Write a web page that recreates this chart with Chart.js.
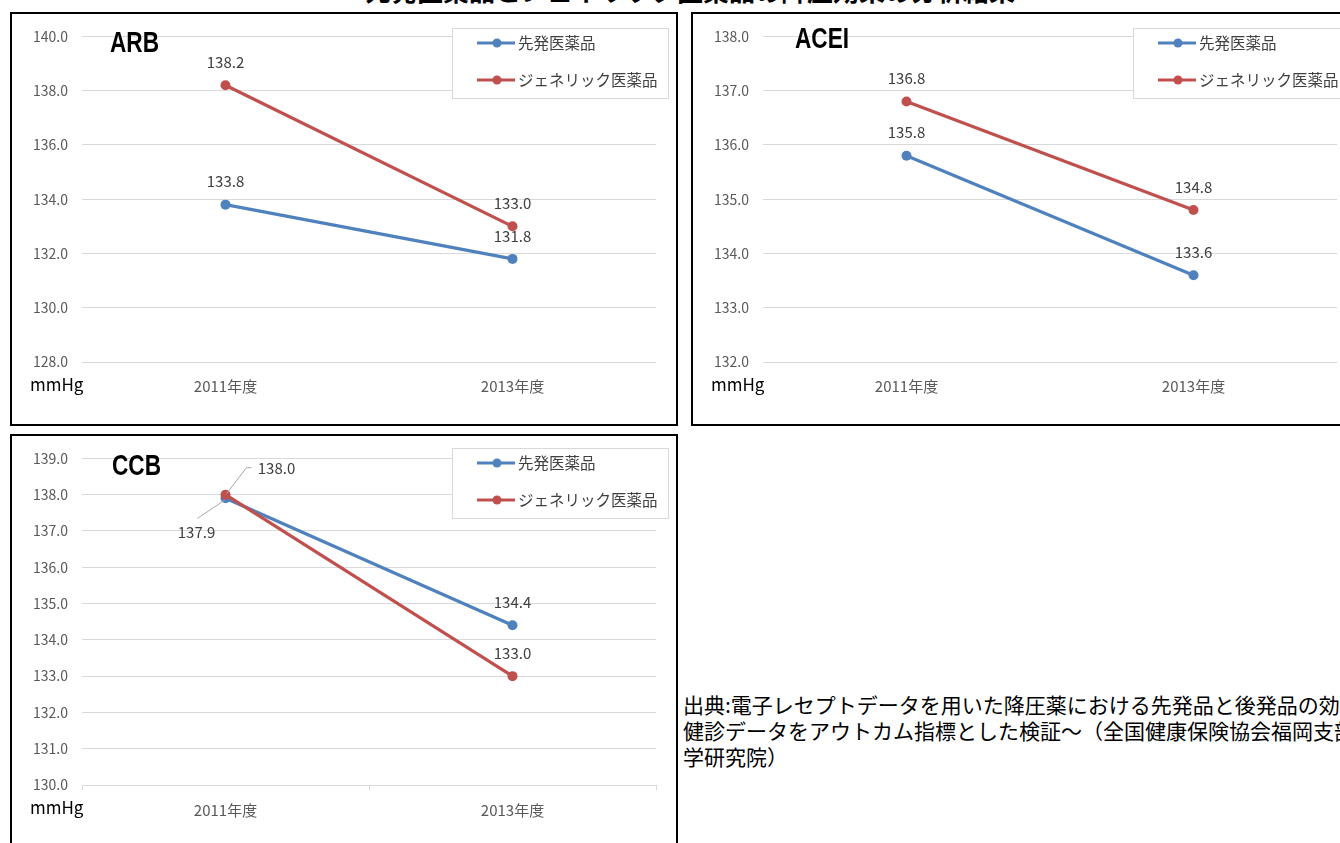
<!DOCTYPE html>
<html lang="ja">
<head>
<meta charset="utf-8">
<script src="https://cdn.jsdelivr.net/npm/chart.js@4.4.1/dist/chart.umd.min.js"></script>
<style>
  html, body { margin: 0; padding: 0; background: #fff; }
  body { width: 1340px; height: 843px; overflow: hidden; position: relative;
         font-family: "Noto Sans CJK JP", "Noto Sans", sans-serif; }
  .title { position: absolute; left: 0; width: 1380px; top: -29px; text-align: center;
           font-size: 26px; font-weight: bold; color: #000; white-space: nowrap; }
  .panel { position: absolute; border: 2px solid #000; background: #fff; overflow: hidden; }
  .panel canvas { position: absolute; left: 0; top: 0; }
  .source { position: absolute; left: 683px; top: 691px; font-size: 21px; line-height: 26px;
            color: #000; white-space: nowrap; }
</style>
</head>
<body>
<div class="title">先発医薬品とジェネリック医薬品の降圧効果の分析結果</div>

<div class="panel" style="left:10px; top:12px; width:664px; height:410px;">
  <canvas id="arb" width="664" height="410"></canvas>
</div>
<div class="panel" style="left:691px; top:12px; width:664px; height:410px;">
  <canvas id="acei" width="664" height="410"></canvas>
</div>
<div class="panel" style="left:10px; top:434px; width:664px; height:420px;">
  <canvas id="ccb" width="664" height="420"></canvas>
</div>

<div class="source">出典:電子レセプトデータを用いた降圧薬における先発品と後発品の効果比較～特定<br>健診データをアウトカム指標とした検証～（全国健康保険協会福岡支部・九州大学大学院医<br>学研究院）</div>

<script>
// ---- data ----
const years = ['2011年度', '2013年度'];
const seriesNames = ['先発医薬品', 'ジェネリック医薬品'];

const arbBrand   = [133.8, 131.8];
const arbGeneric = [138.2, 133.0];
const arbAxis    = [128, 140, 2];   // min, max, step

const aceiBrand   = [135.8, 133.6];
const aceiGeneric = [136.8, 134.8];
const aceiAxis    = [132, 138, 1];

const ccbBrand   = [137.9, 134.4];
const ccbGeneric = [138.0, 133.0];
const ccbAxis    = [130, 139, 1];

const unitLabel = 'mmHg';

// ---- styling ----
const BLUE = '#4F81BD';
const RED  = '#C0504D';
const GRID = '#d9d9d9';
const FONT = '"Noto Sans CJK JP", "Noto Sans", sans-serif';

// panel title, unit label, legend and value labels
const panelDecor = {
  id: 'panelDecor',
  afterDatasetsDraw(chart, args, opts) {
    const ctx = chart.ctx;
    ctx.save();

    // value labels (with optional leader lines)
    chart.data.datasets.forEach((ds, di) => {
      const meta = chart.getDatasetMeta(di);
      meta.data.forEach((pt, i) => {
        const key = di + ':' + i;
        const custom = (opts.labelPos || {})[key];
        const dx = custom ? custom.dx : 0;
        const dy = custom ? custom.dy : -23;
        if (custom && custom.leader) {
          ctx.strokeStyle = '#a6a6a6';
          ctx.lineWidth = 1;
          ctx.beginPath();
          custom.leader.forEach((p, k) => {
            const x = pt.x + p[0], y = pt.y + p[1];
            if (k === 0) ctx.moveTo(x, y); else ctx.lineTo(x, y);
          });
          ctx.stroke();
        }
        ctx.fillStyle = '#404040';
        ctx.font = '15px ' + FONT;
        ctx.textAlign = 'center';
        ctx.textBaseline = 'middle';
        ctx.fillText(ds.data[i].toFixed(1), pt.x + dx, pt.y + dy);
      });
    });

    // unit label under the value axis
    ctx.fillStyle = '#000';
    ctx.font = '17px ' + FONT;
    ctx.textAlign = 'left';
    ctx.textBaseline = 'middle';
    ctx.fillText(unitLabel, 18, chart.chartArea.bottom + 23);

    // panel heading
    ctx.save();
    ctx.translate(opts.headX, opts.headY);
    ctx.scale(0.78, 1);
    ctx.font = 'bold 29px "Liberation Sans", Arial, sans-serif';
    ctx.fillStyle = '#000';
    ctx.textAlign = 'left';
    ctx.textBaseline = 'middle';
    ctx.fillText(opts.heading, 0, 0);
    ctx.restore();

    // legend box
    const lx = 440, ly = opts.legendY, lw = 216, lh = 70;
    ctx.fillStyle = '#fff';
    ctx.fillRect(lx, ly, lw, lh);
    ctx.strokeStyle = GRID;
    ctx.lineWidth = 1;
    ctx.strokeRect(lx + 0.5, ly + 0.5, lw, lh);
    chart.data.datasets.forEach((ds, di) => {
      const y = ly + 15 + di * 37;
      ctx.strokeStyle = ds.borderColor;
      ctx.lineWidth = 3;
      ctx.beginPath();
      ctx.moveTo(lx + 25, y);
      ctx.lineTo(lx + 63, y);
      ctx.stroke();
      ctx.fillStyle = ds.backgroundColor;
      ctx.beginPath();
      ctx.arc(lx + 45, y, 4.5, 0, Math.PI * 2);
      ctx.fill();
      ctx.fillStyle = '#404040';
      ctx.font = '15.5px ' + FONT;
      ctx.textAlign = 'left';
      ctx.textBaseline = 'middle';
      ctx.fillText(ds.label, lx + 66, y);
    });

    ctx.restore();
  }
};

function makePanel(id, brand, generic, axis, decor, frame) {
  const [min, max, step] = axis;
  const line = (label, data, color, order) => ({
    label, data, order,
    borderColor: color, backgroundColor: color,
    borderWidth: 3.2, pointRadius: 5, pointHoverRadius: 5,
    pointBorderWidth: 0, tension: 0
  });
  return new Chart(document.getElementById(id), {
    type: 'line',
    data: {
      labels: years,
      datasets: [
        line(seriesNames[0], brand, BLUE, 1),
        line(seriesNames[1], generic, RED, 0)
      ]
    },
    options: {
      responsive: false,
      animation: false,
      events: [],
      layout: { padding: { left: 0, top: frame.top, right: 20, bottom: 0 } },
      plugins: {
        legend: { display: false },
        tooltip: { enabled: false },
        panelDecor: decor
      },
      scales: {
        x: {
          offset: true,
          grid: frame.xTicks
            ? { offset: true, drawOnChartArea: false, drawTicks: true, tickLength: 5, color: GRID }
            : { display: false, drawTicks: false },
          border: { display: !!frame.xTicks, color: GRID },
          ticks: { color: '#595959', font: { family: FONT, size: 15 },
                   padding: frame.xTicks ? 11 : 15, maxRotation: 0 },
          afterFit(s) { s.height = frame.xHeight; }
        },
        y: {
          min, max,
          grid: { color: GRID, lineWidth: 1, drawTicks: false },
          border: { display: false },
          ticks: { stepSize: step, color: '#595959', padding: 14,
                   font: { family: FONT, size: 14 },
                   callback: v => Number(v).toFixed(1) },
          afterFit(s) { s.width = 70; }
        }
      }
    },
    plugins: [panelDecor]
  });
}

makePanel('arb', arbBrand, arbGeneric, arbAxis,
  { heading: 'ARB', headX: 98, headY: 30, legendY: 14 },
  { top: 19, xHeight: 62 });

makePanel('acei', aceiBrand, aceiGeneric, aceiAxis,
  { heading: 'ACEI', headX: 102, headY: 26, legendY: 14 },
  { top: 19, xHeight: 62 });

makePanel('ccb', ccbBrand, ccbGeneric, ccbAxis,
  { heading: 'CCB', headX: 100, headY: 31, legendY: 12,
    labelPos: {
      '1:0': { dx: 51, dy: -26, leader: [[1, -1], [21, -27], [26, -27]] },
      '0:0': { dx: -29, dy: 34, leader: [[-28, 20], [-1, 2]] }
    } },
  { top: 22, xHeight: 71, xTicks: true });
</script>
</body>
</html>
